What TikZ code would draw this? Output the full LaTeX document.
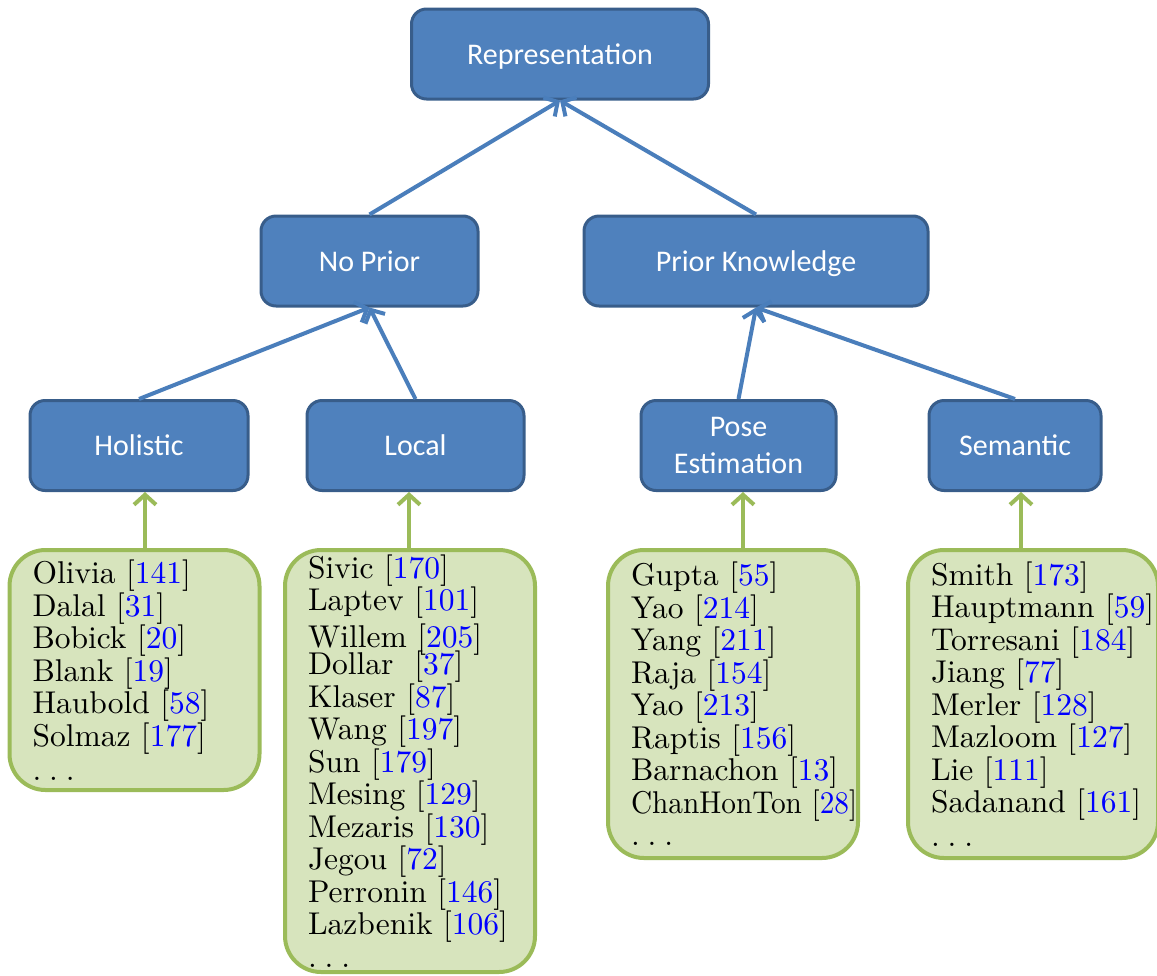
\documentclass[tikz,border=0pt]{standalone}
\usepackage{fontspec}
\usepackage{xcolor}
\usetikzlibrary{positioning,arrows.meta}
\newfontfamily\boxfont{Carlito}
\newfontfamily\listfont{lmroman10-regular.otf}
\definecolor{boxblue}{HTML}{4F81BD}
\definecolor{edgeblue}{HTML}{385D8A}
\definecolor{arrowblue}{HTML}{4A7EBB}
\definecolor{listgreen}{HTML}{D7E4BD}
\definecolor{edgegreen}{HTML}{9BBB59}
\newcommand{\cit}[1]{[\textcolor{blue}{#1}]}
\newcommand{\more}{.\kern8pt.\kern8pt.}

\begin{document}
\begin{tikzpicture}[
  x=1pt, y=-1pt,
  cat/.style={draw=edgeblue, fill=boxblue, line width=3pt, rounded corners=15pt, text=white, align=center,
    minimum height=90pt, inner sep=0pt, text depth=0pt, font=\boxfont\fontsize{30}{37}\selectfont},
  refs/.style={draw=edgegreen, fill=listgreen, line width=4pt, rounded corners=36pt, align=left,
    text width=204pt, inner xsep=23pt, inner ysep=0pt, font=\listfont\fontsize{31.5}{32.5}\selectfont},
  up/.style={-{Straight Barb[length=10pt,width=22pt]}, line width=4pt, draw=arrowblue},
  upg/.style={up, draw=edgegreen},
]
  \useasboundingbox (0,0) rectangle (1157,975);
  \node[cat, minimum width=297pt] (repr) at (560,54) {Representation};
  \node[cat, minimum width=217pt] (noprior) at (369.5,261) {No Prior};
  \node[cat, minimum width=344pt] (prior) at (756,261) {Prior Knowledge};
  \node[cat, minimum width=218pt] (holistic) at (139,445.5) {Holistic};
  \node[cat, minimum width=217pt] (local) at (415.5,445.5) {Local};
  \node[cat, minimum width=195pt] (pose) at (738.5,445.5) {Pose\\Estimation};
  \node[cat, minimum width=172pt] (semantic) at (1015,445.5) {Semantic};

  \node[refs, minimum height=240pt, below=56pt of holistic, xshift=-4.5pt] (holl)
    {Olivia~\cit{141}\\ Dalal~\cit{31}\\ Bobick~\cit{20}\\ Blank~\cit{19}\\ Haubold~\cit{58}\\
     Solmaz~\cit{177}\\[1.5pt] \more};
  \node[refs, minimum height=422pt, below=56pt of local, xshift=-5.5pt] (locl)
    {Sivic~\cit{170}\\ Laptev~\cit{101}\\[4.5pt] Willem~\cit{205}\\[-5.5pt] Dollar\ \ \cit{37}\\
     Klaser~\cit{87}\\ Wang~\cit{197}\\ Sun~\cit{179}\\ Mesing~\cit{129}\\ Mezaris~\cit{130}\\
     Jegou~\cit{72}\\ Perronin~\cit{146}\\ Lazbenik~\cit{106}\\ \more};
  \node[refs, minimum height=308pt, below=56pt of pose, xshift=-5.5pt] (posel)
    {Gupta~\cit{55}\\ Yao~\cit{214}\\ Yang~\cit{211}\\ Raja~\cit{154}\\ Yao~\cit{213}\\
     Raptis~\cit{156}\\ Barnachon~\cit{13}\\ \scalebox{0.93}[1]{ChanHonTon~\cit{28}}\\ \more};
  \node[refs, minimum height=308pt, below=56pt of semantic, xshift=18pt] (seml)
    {Smith~\cit{173}\\ Hauptmann~\cit{59}\\ Torresani~\cit{184}\\ Jiang~\cit{77}\\ Merler~\cit{128}\\
     Mazloom~\cit{127}\\ Lie~\cit{111}\\ Sadanand~\cit{161}\\[1.5pt] \more};

  \foreach \a/\b in {noprior/repr,prior/repr,holistic/noprior,local/noprior,pose/prior,semantic/prior}
    \draw[up] (\a.north) -- (\b.south);
  \foreach \a/\b/\s in {holl/holistic/6,locl/local/-6.5,posel/pose/4.5,seml/semantic/6}
    \draw[upg] ([xshift=\s pt]\b.south |- \a.north) -- ([xshift=\s pt]\b.south);
\end{tikzpicture}
\end{document}
